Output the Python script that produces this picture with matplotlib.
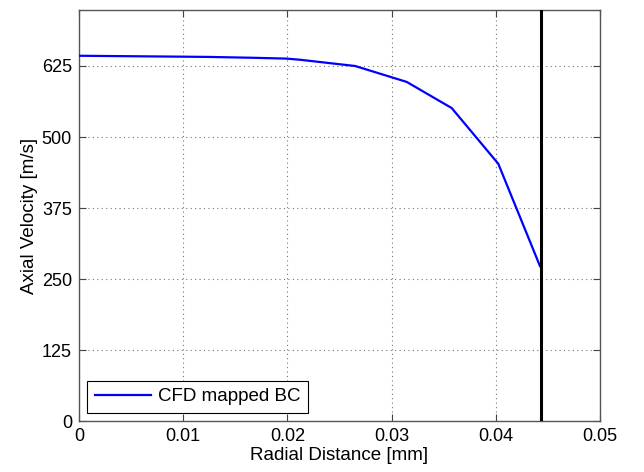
import matplotlib
matplotlib.use("Agg")
import matplotlib.pyplot as plt

plt.rcParams['font.family'] = ['Liberation Sans', 'DejaVu Sans']

# Radial profile of axial velocity from the CFD solution
radius = [0.0, 0.0123, 0.0166, 0.0199, 0.0212, 0.0265, 0.03145, 0.03577, 0.04024, 0.04424]
velocity = [643.0, 641.0, 639.5, 638.0, 636.0, 625.0, 597.0, 551.0, 453.0, 273.0]

wall_radius = 0.04436

x_ticks = [0, 0.01, 0.02, 0.03, 0.04, 0.05]
x_tick_labels = ['0', '0.01', '0.02', '0.03', '0.04', '0.05']
y_ticks = [0, 125, 250, 375, 500, 625]
y_tick_labels = ['0', '125', '250', '375', '500', '625']

fig = plt.figure(figsize=(6.44, 4.72), dpi=100)
ax = fig.add_axes([79 / 644, 1 - 421.3 / 472, (600 - 79) / 644, (421.3 - 10) / 472])

ax.plot(radius, velocity, color='#0000ff', lw=1.6, label='CFD mapped BC', zorder=3)
ax.axvline(wall_radius, color='black', lw=2.2, zorder=3)

ax.set_xlim(0, 0.05)
ax.set_ylim(0, 723.5)
ax.set_xticks(x_ticks)
ax.set_xticklabels(x_tick_labels)
ax.set_yticks(y_ticks)
ax.set_yticklabels(y_tick_labels)

ax.grid(True, linestyle=(0, (1, 3)), color='#777777', lw=0.8)
ax.tick_params(direction='in', top=True, right=True, length=5, width=0.8,
               color='#444444', labelsize=13, pad=5)
for s in ax.spines.values():
    s.set_color('#555555')
    s.set_linewidth(1.0)

ax.set_xlabel('Radial Distance [mm]', fontsize=13.5, labelpad=1)
ax.set_ylabel('Axial Velocity [m/s]', fontsize=13.5, labelpad=3)

leg = ax.legend(loc='lower left', fontsize=13.5, frameon=True, fancybox=False,
                edgecolor='black', framealpha=1, borderaxespad=0.45,
                handlelength=3.0, handletextpad=0.36, borderpad=0.4)
leg.get_frame().set_linewidth(0.8)

fig.savefig('out.png', dpi=100)
